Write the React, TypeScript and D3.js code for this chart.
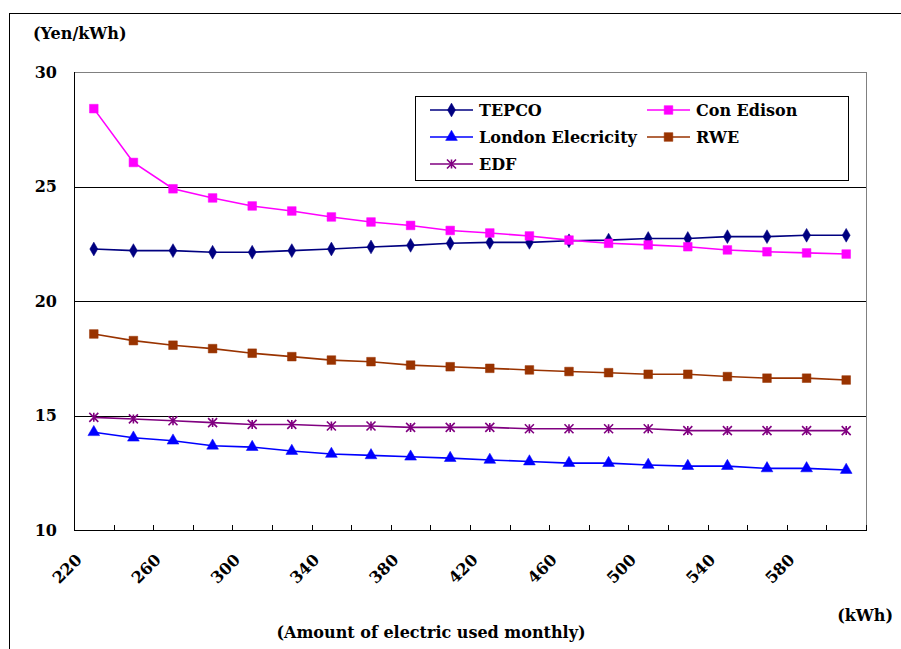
import React from "react";
import * as d3 from "d3";

const kwh = ["220","240","260","280","300","320","340","360","380","400","420","440","460","480","500","520","540","560","580","600"];
const tepco = [22.27, 22.2, 22.2, 22.13, 22.13, 22.2, 22.27, 22.36, 22.43, 22.52, 22.56, 22.56, 22.63, 22.66, 22.73, 22.73, 22.81, 22.81, 22.87, 22.87];
const conEdison = [28.4, 26.05, 24.9, 24.5, 24.15, 23.93, 23.67, 23.45, 23.3, 23.08, 22.97, 22.84, 22.66, 22.52, 22.45, 22.37, 22.23, 22.15, 22.1, 22.05];
const london = [14.27, 14.03, 13.9, 13.68, 13.62, 13.45, 13.32, 13.26, 13.2, 13.14, 13.06, 12.99, 12.92, 12.92, 12.84, 12.79, 12.79, 12.69, 12.69, 12.62];
const rwe = [18.56, 18.27, 18.07, 17.92, 17.72, 17.57, 17.42, 17.35, 17.2, 17.13, 17.06, 16.99, 16.92, 16.87, 16.8, 16.8, 16.7, 16.63, 16.63, 16.55];
const edf = [14.92, 14.85, 14.77, 14.69, 14.61, 14.61, 14.54, 14.54, 14.48, 14.48, 14.48, 14.42, 14.42, 14.42, 14.42, 14.34, 14.34, 14.34, 14.34, 14.34];
const yTicks = [10, 15, 20, 25, 30];
const xLabels = ["220","260","300","340","380","420","460","500","540","580"];

const seriesNames = ["TEPCO", "Con Edison", "London Elecricity", "RWE", "EDF"];
const seriesColors = ["#000080", "#FF00FF", "#0000FF", "#993300", "#800080"];
const seriesMarkers = ["diamond", "square", "triangle", "square", "star"];
const seriesValues = [tepco, conEdison, london, rwe, edf];

const FONT = "'DejaVu Serif', 'DejaVu Sans', serif";
const FS = 16;

function Marker({ type, x, y, color }: { type: string; x: number; y: number; color: string }) {
  if (type === "star") {
    const r = 4.5;
    return (
      <path
        transform={`translate(${x},${y})`}
        d={`M0,${-r}L0,${r}M${-r},${-r}L${r},${r}M${-r},${r}L${r},${-r}`}
        stroke={color}
        strokeWidth={1.6}
        fill="none"
      />
    );
  }
  let sym = d3.symbolSquare;
  let size = 75;
  if (type === "diamond") { sym = d3.symbolDiamond; size = 55; }
  if (type === "triangle") { sym = d3.symbolTriangle; size = 60; }
  const p = d3.symbol().type(sym).size(size)() as string;
  return <path transform={`translate(${x},${y})`} d={p} fill={color} stroke={color} strokeWidth={0.5} />;
}

export default function App() {
  const W = 901, H = 649;
  const left = 74, right = 866, top = 72, bottom = 530;
  const x = d3.scaleBand<string>().domain(kwh).range([left, right]).padding(0);
  const y = d3.scaleLinear().domain([10, 30]).range([bottom, top]);
  const cx = (k: string) => (x(k) as number) + x.bandwidth() / 2;
  const line = d3.line<number>().x((_, i) => cx(kwh[i])).y((v) => y(v));
  const boundaries = kwh.map((k) => x(k) as number).concat([right]);

  return (
    <svg width={W} height={H} style={{ position: "absolute", left: 0, top: 0, background: "#fff" }}>
      <rect x={0} y={0} width={W} height={H} fill="#fff" />
      <rect x={9.5} y={13.5} width={W + 10} height={H + 10} fill="none" stroke="#000" strokeWidth={1} />

      {/* gridlines */}
      {yTicks.filter((t) => t !== 10).map((t) => (
        <line key={t} x1={left} x2={right} y1={Math.round(y(t)) + 0.5} y2={Math.round(y(t)) + 0.5}
          stroke={t === 30 ? "#808080" : "#000"} strokeWidth={1} />
      ))}
      <line x1={right + 0.5} x2={right + 0.5} y1={top} y2={bottom} stroke="#808080" strokeWidth={1} />
      {/* axes */}
      <line x1={left + 0.5} x2={left + 0.5} y1={top} y2={bottom} stroke="#000" strokeWidth={1} />
      <line x1={left} x2={right + 1} y1={bottom + 0.5} y2={bottom + 0.5} stroke="#000" strokeWidth={1} />
      {boundaries.map((b, i) => (
        <line key={i} x1={Math.round(b) + 0.5} x2={Math.round(b) + 0.5} y1={bottom} y2={bottom - 5} stroke="#000" strokeWidth={1} />
      ))}

      {/* y tick labels */}
      {yTicks.map((t) => (
        <text key={t} x={57} y={y(t)} dy="0.35em" textAnchor="end" fontFamily={FONT} fontWeight="bold" fontSize={FS} fill="#000">
          {t}
        </text>
      ))}
      {/* x tick labels */}
      {xLabels.map((k) => (
        <text key={k} transform={`translate(${cx(k) - 15},${557}) rotate(-45)`} dy="0.35em" textAnchor="end"
          fontFamily={FONT} fontWeight="bold" fontSize={FS} fill="#000">
          {k}
        </text>
      ))}

      {/* series */}
      {seriesValues.map((vals, si) => (
        <g key={si}>
          <path d={line(vals) as string} fill="none" stroke={seriesColors[si]} strokeWidth={1.6} />
          {vals.map((v, i) => (
            <Marker key={i} type={seriesMarkers[si]} x={cx(kwh[i])} y={y(v)} color={seriesColors[si]} />
          ))}
        </g>
      ))}

      {/* legend */}
      <rect x={415.5} y={96.5} width={433} height={84} fill="#fff" stroke="#000" strokeWidth={1} />
      {seriesNames.map((n, i) => {
        const col = i % 2;
        const row = Math.floor(i / 2);
        const lx = 430 + col * 217;
        const ly = 110 + row * 27;
        return (
          <g key={n}>
            <line x1={lx} x2={lx + 43} y1={ly} y2={ly} stroke={seriesColors[i]} strokeWidth={1.6} />
            <Marker type={seriesMarkers[i]} x={lx + 21.5} y={ly} color={seriesColors[i]} />
            <text x={lx + 49} y={ly} dy="0.35em" fontFamily={FONT} fontWeight="bold" fontSize={FS} fill="#000">{n}</text>
          </g>
        );
      })}

      {/* axis titles */}
      <text x={33} y={33} dy="0.35em" fontFamily={FONT} fontWeight="bold" fontSize={FS} fill="#000">(Yen/kWh)</text>
      <text x={893} y={615} dy="0.35em" textAnchor="end" fontFamily={FONT} fontWeight="bold" fontSize={FS} fill="#000">(kWh)</text>
      <text x={431} y={632} dy="0.35em" textAnchor="middle" fontFamily={FONT} fontWeight="bold" fontSize={FS} fill="#000">
        (Amount of electric used monthly)
      </text>
    </svg>
  );
}
